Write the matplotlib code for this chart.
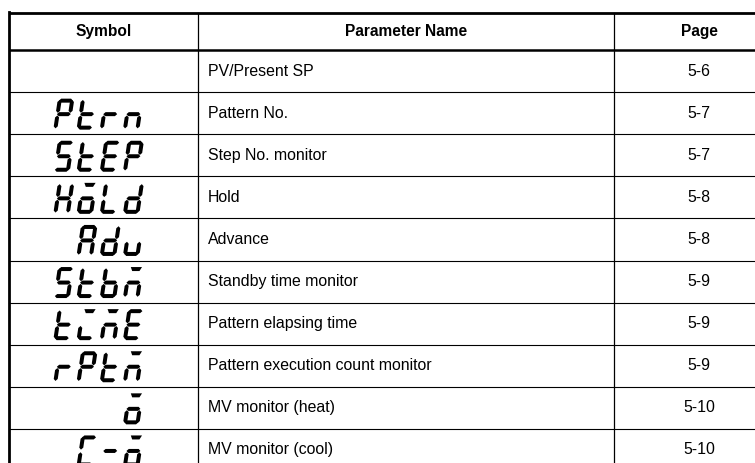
import numpy as np
import matplotlib
matplotlib.use('Agg')
import matplotlib.pyplot as plt
from matplotlib.patches import Polygon

# table contents
headers = ['Symbol', 'Parameter Name', 'Page']
# 7-segment symbols; 'O' = o with overbar, 'M' = n with overbar, 'I' = i with overbar
symbols = ['', 'Ptrn', 'StEP', 'HOLd', 'Adu', 'StbM', 'tIME', 'rPtM', 'O', 'C-O']
names = ['PV/Present SP', 'Pattern No.', 'Step No. monitor', 'Hold', 'Advance',
         'Standby time monitor', 'Pattern elapsing time',
         'Pattern execution count monitor', 'MV monitor (heat)', 'MV monitor (cool)']
pages = ['5-6', '5-7', '5-7', '5-8', '5-8', '5-9', '5-9', '5-9', '5-10', '5-10']

# segment font (a..g, plus "B" for the overbar)
SEGS = {
    'P': 'abefg', 't': 'defg', 'r': 'eg', 'n': 'ceg', 'S': 'acdfg', 'E': 'adefg',
    'H': 'bcefg', 'L': 'def', 'd': 'bcdeg', 'A': 'abcefg', 'u': 'cde', 'b': 'cdefg',
    'C': 'adef', '-': 'g', 'O': 'Bcdeg', 'M': 'Bceg', 'I': 'Bde',
}

W, H, T, GAP = 16.5, 31.0, 4.0, 1.3
SLANT = 0.15
PITCH = 23.2
RIGHT = 144.0

x_left, x_c1, x_c2 = 9.0, 198.0, 614.0
y_top, y_head = 13.0, 50.0
row_h = 42.1


def hseg(y, x0, x1):
    h = T / 2
    return [(x0, y), (x0 + h, y - h), (x1 - h, y - h), (x1, y), (x1 - h, y + h), (x0 + h, y + h)]


def vseg(x, y0, y1):
    h = T / 2
    return [(x, y0), (x + h, y0 + h), (x + h, y1 - h), (x, y1), (x - h, y1 - h), (x - h, y0 + h)]


def seg_shape(s):
    if s == 'a':
        return hseg(T / 2, GAP, W - GAP)
    if s == 'g':
        return hseg(H / 2, GAP, W - GAP)
    if s == 'd':
        return hseg(H - T / 2, GAP, W - GAP)
    if s == 'f':
        return vseg(T / 2, GAP, H / 2 - GAP)
    if s == 'b':
        return vseg(W - T / 2, GAP, H / 2 - GAP)
    if s == 'e':
        return vseg(T / 2, H / 2 + GAP, H - GAP)
    if s == 'c':
        return vseg(W - T / 2, H / 2 + GAP, H - GAP)
    if s == 'B':
        return [(0.2 * W, 0), (0.88 * W, 0), (0.76 * W, T), (0.32 * W, T)]


def draw_glyph(ax, ch, x0, y0):
    for s in SEGS[ch]:
        pts = [(x0 + px + (H - py) * SLANT, y0 + py) for px, py in seg_shape(s)]
        ax.add_patch(Polygon(pts, closed=True, fc='black', ec='none'))


fig = plt.figure(figsize=(7.55, 4.63), dpi=100)
ax = fig.add_axes([0, 0, 1, 1])
ax.set_xlim(0, 755)
ax.set_ylim(463, 0)
ax.axis('off')

n = len(names)
y_bot = y_head + n * row_h

# grid lines
ax.plot([x_left, 755], [y_top, y_top], color='black', lw=2.0, solid_capstyle='butt')
ax.plot([x_left, 755], [y_head, y_head], color='black', lw=1.8, solid_capstyle='butt')
for i in range(1, n):
    y = y_head + i * row_h
    ax.plot([x_left, 755], [y, y], color='black', lw=0.8)
ax.plot([x_left, x_left], [y_top - 1, y_bot], color='black', lw=2.0)
for xc in (x_c1, x_c2):
    ax.plot([xc, xc], [y_top, y_bot], color='black', lw=0.9)

font = 'Liberation Sans'
yh = (y_top + y_head) / 2
ax.text((x_left + x_c1) / 2, yh, headers[0], ha='center', va='center',
        fontsize=11.2, fontweight='bold', family=font)
ax.text((x_c1 + x_c2) / 2, yh, headers[1], ha='center', va='center',
        fontsize=11.2, fontweight='bold', family=font)
ax.text(699, yh, headers[2], ha='center', va='center',
        fontsize=11.2, fontweight='bold', family=font)

for i in range(n):
    yc = y_head + (i + 0.5) * row_h
    ax.text(x_c1 + 10, yc, names[i], ha='left', va='center', fontsize=11.4, family=font)
    ax.text(699, yc, pages[i], ha='center', va='center', fontsize=11.4, family=font)
    sym = symbols[i]
    gy = yc - H / 2 + 1
    for k, ch in enumerate(reversed(sym)):
        gx = RIGHT - W - H * SLANT - k * PITCH
        draw_glyph(ax, ch, gx, gy)

fig.savefig('out.png', dpi=100, facecolor='white')
